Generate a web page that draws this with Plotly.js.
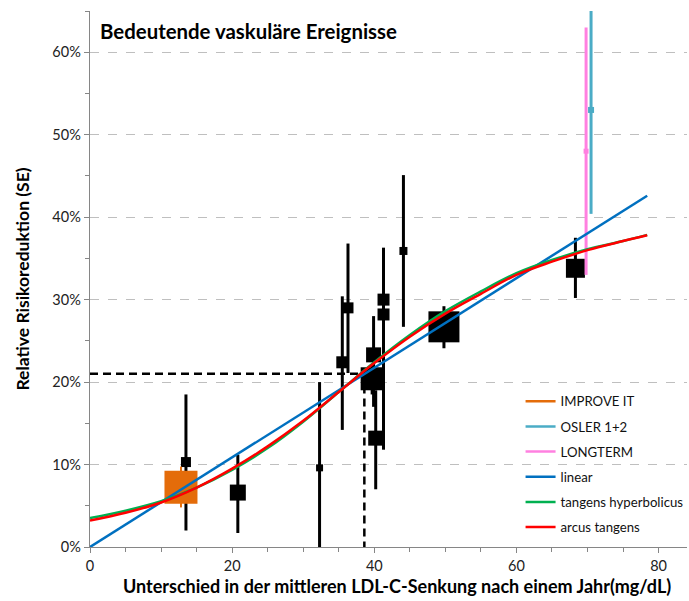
<!DOCTYPE html>
<html>
<head>
<meta charset="utf-8">
<script src="https://cdn.plot.ly/plotly-3.0.1.min.js"></script>
<style>
  html, body { margin: 0; padding: 0; background: #fff; }
  #chart { width: 689px; height: 601px; }
</style>
</head>
<body>
<div id="chart"></div>
<script>
// ---- data (percent values, LDL-C difference in mg/dL) ----
const studyX     = [13.5, 20.8, 32.3, 35.5, 36.3, 39.7, 39.9, 40.2, 41.3, 41.3, 44.1, 49.8, 68.3];
const studyY     = [10.3, 6.6, 9.6, 22.4, 29.0, 20.4, 23.3, 13.2, 30.0, 28.2, 35.9, 26.7, 33.8];
const studyHi    = [18.5, 11.2, 20.0, 30.4, 36.8, 22.0, 28.0, 19.0, 36.3, 32.5, 45.1, 29.2, 37.5];
const studyLo    = [2.0, 1.7, -1.0, 14.2, 21.1, 18.5, 17.0, 7.0, 24.0, 11.8, 26.7, 24.1, 30.2];
const studyWeight = [10, 16, 7, 12, 11, 23, 15, 15, 12, 12, 8, 31, 19];

const improveX = [12.8], improveY = [7.25], improveHi = [9.75], improveLo = [4.8];
const oslerX = [70.5], oslerY = [53.0], oslerHi = [66.0], oslerLo = [40.4];
const longtermX = [69.8], longtermY = [48.0], longtermHi = [63.0], longtermLo = [33.0];

const refX = [0, 38.6, 38.6];
const refY = [21.0, 21.0, 0];

const linearX = [0, 78.4];
const linearY = [0, 42.6];

const fitX  = [0, 5, 10, 15, 20, 25, 30, 35, 40, 45, 50, 55, 60, 65, 70, 75, 78.4];
const tanhY = [3.5, 4.4, 5.55, 7.2, 9.35, 12.0, 15.2, 18.8, 22.4, 25.7, 28.6, 31.0, 33.2, 34.8, 36.1, 37.1, 37.85];
const atanY = [3.2, 4.15, 5.4, 7.2, 9.5, 12.2, 15.3, 18.8, 22.3, 25.5, 28.3, 30.7, 33.0, 34.6, 36.0, 37.1, 37.8];

const xTickVals = [0, 20, 40, 60, 80];
const yTickVals = [0, 10, 20, 30, 40, 50, 60];
const yTickText = yTickVals.map(v => v + '%');

const legendNames = ['IMPROVE IT', 'OSLER 1+2', 'LONGTERM'];
const fitNames = ['linear', 'tangens hyperbolicus', 'arcus tangens'];
const xTitle = 'Unterschied in der mittleren LDL-C-Senkung nach einem Jahr(mg/dL)';
const yTitle = 'Relative Risikoreduktion (SE)';
const chartTitle = 'Bedeutende vaskuläre Ereignisse';

const cOrange = '#E46C0A', cTeal = '#4BACC6', cPink = '#FF80E0';
const cBlue = '#0070C0', cGreen = '#00B050', cRed = '#FF0000';

function errs(y, hi, lo) {
  return {
    type: 'data', symmetric: false,
    array: y.map((v, i) => hi[i] - v),
    arrayminus: y.map((v, i) => v - lo[i])
  };
}

const traces = [];
// legend-only entries (lines)
[[legendNames[0], cOrange], [legendNames[1], cTeal], [legendNames[2], cPink]].forEach(([n, c], i) => {
  traces.push({ x: [null], y: [null], type: 'scatter', mode: 'lines', name: n, legendgroup: 'g' + i,
    line: { color: c, width: 2.5 }, hoverinfo: 'skip' });
});
// reference cross-hair
traces.push({ x: refX, y: refY, type: 'scatter', mode: 'lines', showlegend: false,
  line: { color: '#000', width: 2.5, dash: '8px,5px' }, hoverinfo: 'skip' });
// black study markers
traces.push({ x: studyX, y: studyY, type: 'scatter', mode: 'markers', showlegend: false,
  marker: { symbol: 'square', size: studyWeight, color: '#000', opacity: 1, line: { width: 0 } },
  error_y: Object.assign(errs(studyY, studyHi, studyLo), { color: '#000', thickness: 3, width: 0 }) });
// IMPROVE IT
traces.push({ x: improveX, y: improveY, type: 'scatter', mode: 'markers', showlegend: false,
  marker: { symbol: 'square', size: 33, color: cOrange, opacity: 1, line: { width: 0 } },
  error_y: Object.assign(errs(improveY, improveHi, improveLo), { color: cOrange, thickness: 2, width: 0 }) });
// LONGTERM
traces.push({ x: longtermX, y: longtermY, type: 'scatter', mode: 'markers', showlegend: false,
  marker: { symbol: 'square', size: 5, color: cPink, opacity: 1, line: { width: 0 } },
  error_y: Object.assign(errs(longtermY, longtermHi, longtermLo), { color: cPink, thickness: 3, width: 0 }) });
// OSLER
traces.push({ x: oslerX, y: oslerY, type: 'scatter', mode: 'markers', showlegend: false,
  marker: { symbol: 'square', size: 6, color: cTeal, opacity: 1, line: { width: 0 } },
  error_y: Object.assign(errs(oslerY, oslerHi, oslerLo), { color: cTeal, thickness: 3, width: 0 }) });
// fits
traces.push({ x: linearX, y: linearY, type: 'scatter', mode: 'lines', name: fitNames[0], legendgroup: 'g3',
  line: { color: cBlue, width: 2.5 } });
traces.push({ x: fitX, y: tanhY, type: 'scatter', mode: 'lines', name: fitNames[1], legendgroup: 'g4',
  line: { color: cGreen, width: 2.5, shape: 'spline', smoothing: 1 } });
traces.push({ x: fitX, y: atanY, type: 'scatter', mode: 'lines', name: fitNames[2], legendgroup: 'g5',
  line: { color: cRed, width: 2.5, shape: 'spline', smoothing: 1 } });

const font = 'Lato, "Open Sans", "Liberation Sans", sans-serif';

const layout = {
  width: 689, height: 601,
  margin: { l: 90, r: 1, t: 11, b: 54, pad: 0 },
  paper_bgcolor: '#fff', plot_bgcolor: '#fff',
  font: { family: font, size: 13, color: '#222' },
  title: {
    text: '<b>' + chartTitle + '</b>',
    font: { family: font, size: 20.4, color: '#000' },
    x: 100 / 689, xanchor: 'left', xref: 'container',
    y: 1 - 32 / 601, yanchor: 'middle', yref: 'container'
  },
  xaxis: {
    range: [0, 84], tickvals: xTickVals, ticks: 'outside', ticklen: 5, tickwidth: 1,
    tickcolor: '#868686', showline: true, linecolor: '#868686', linewidth: 1.3,
    showgrid: false, zeroline: false,
    tickfont: { family: font, size: 14.5, color: '#222' },
    minor: { dtick: 5, ticks: 'outside', ticklen: 4, tickcolor: '#868686', showgrid: false }
  },
  yaxis: {
    range: [0, 65], tickvals: yTickVals, ticktext: yTickText, ticks: 'outside', ticklen: 5, tickwidth: 1,
    tickcolor: '#868686', showline: true, linecolor: '#868686', linewidth: 1.3,
    showgrid: true, gridcolor: '#BFBFBF', gridwidth: 1, griddash: 'dash', zeroline: false,
    tickfont: { family: font, size: 14.5, color: '#222' },
    minor: { dtick: 5, ticks: 'outside', ticklen: 4, tickcolor: '#868686', showgrid: false },
    title: { text: '<b>' + yTitle + '</b>',
      font: { family: font, size: 17.5, color: '#000' }, standoff: 18 }
  },
  annotations: [{
    text: '<b>' + xTitle + '</b>', xref: 'paper', yref: 'paper',
    x: (398 - 90) / 598, xanchor: 'center', y: (547 - 586) / 536, yanchor: 'middle',
    showarrow: false, font: { family: font, size: 18, color: '#000' }
  }],
  showlegend: true,
  legend: {
    x: 0.72, xanchor: 'left', y: 0.30, yanchor: 'top',
    bgcolor: 'rgba(0,0,0,0)', borderwidth: 0,
    font: { family: font, size: 13.2, color: '#111' },
    itemwidth: 30, tracegroupgap: 5, traceorder: 'grouped'
  }
};

Plotly.newPlot('chart', traces, layout, { displayModeBar: false, staticPlot: true });
</script>
</body>
</html>
